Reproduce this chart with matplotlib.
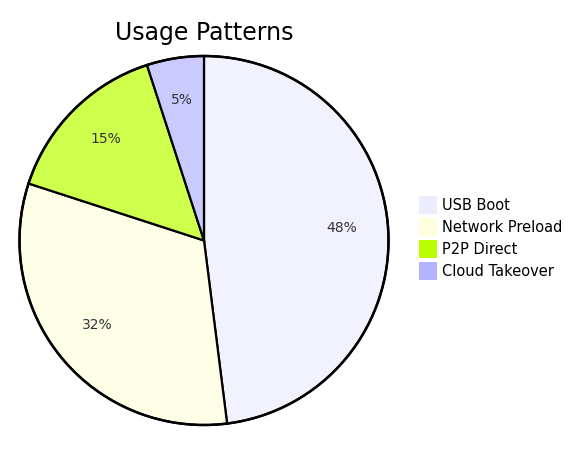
import matplotlib
matplotlib.use("Agg")
import matplotlib.pyplot as plt
from matplotlib.patches import Rectangle
from matplotlib.colors import to_rgb

title = "Usage Patterns"
categories = ["USB Boot", "Network Preload", "P2P Direct", "Cloud Takeover"]
values = [48, 32, 15, 5]
colors = ["#ECECFF", "#FFFFDE", "#B9FF00", "#B3B3FF"]

# slices are drawn at 70% opacity over white
faces = [tuple(0.7 * v + 0.3 for v in to_rgb(c)) for c in colors]

W, H = 577, 458
fig = plt.figure(figsize=(W / 100, H / 100), dpi=100)
ax = fig.add_axes([0, 0, 1, 1])

cx, cy, r = 204, H - 240.5, 184.5
wedges, texts, autotexts = ax.pie(
    values, colors=faces, startangle=90, counterclock=False,
    center=(cx, cy), radius=r, autopct="%1.0f%%", pctdistance=0.75,
    wedgeprops=dict(edgecolor="black", linewidth=1.6),
    textprops=dict(color="#333333", fontsize=10),
    frame=True,
)
for t in autotexts:
    x, y = t.get_position()
    t.set_position((x, y + 4))
ax.set_xlim(0, W)
ax.set_ylim(0, H)
ax.set_aspect("auto")
ax.axis("off")
ax.add_patch(plt.Circle((cx, cy), r, fill=False, edgecolor="black", linewidth=1.8))

ax.text(204, H - 33, title, ha="center", va="center", fontsize=17, color="black")

lx, ly0, step, sz = 419, H - 205, 22, 18
for i, (c, lab) in enumerate(zip(colors, categories)):
    y = ly0 - i * step
    ax.add_patch(Rectangle((lx, y - sz / 2), sz, sz, facecolor=c, edgecolor="none"))
    ax.text(lx + 23, y, lab, ha="left", va="center", fontsize=10.5, color="black")

fig.savefig("out.png", dpi=100)
